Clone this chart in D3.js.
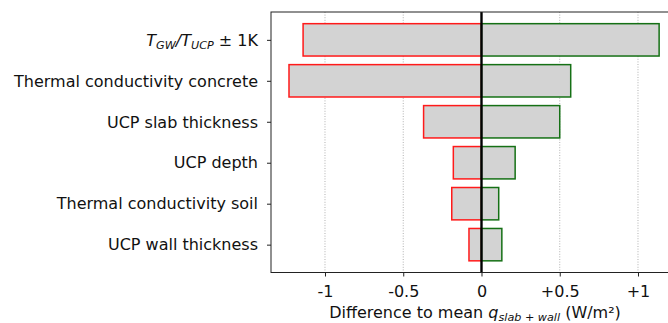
<!DOCTYPE html>
<html>
<head>
<meta charset="utf-8">
<script src="https://cdn.jsdelivr.net/npm/d3@7"></script>
<style>
  html, body { margin: 0; padding: 0; background: #fff; }
  svg { display: block; font-family: "DejaVu Sans", sans-serif; }
</style>
</head>
<body>
<svg id="chart" width="668" height="323"></svg>
<script>
// Sensitivity of q_slab+wall to each parameter (tornado chart)
const categories = [
  "T_GW/T_UCP ± 1K",
  "Thermal conductivity concrete",
  "UCP slab thickness",
  "UCP depth",
  "Thermal conductivity soil",
  "UCP wall thickness"
];
const lowValues  = [-1.14, -1.23, -0.37, -0.18, -0.19, -0.08];
const highValues = [1.135, 0.57, 0.50, 0.215, 0.11, 0.13];
const tickValues = [-1, -0.5, 0, 0.5, 1];
const tickLabels = ["-1", "-0.5", "0", "+0.5", "+1"];

const svg = d3.select("#chart");
const plot = { left: 271, right: 679, top: 12, bottom: 272.5 };
const fs = 16, subFs = 11.2;

const x = d3.scaleLinear().domain([-1.345, 1.262]).range([plot.left, plot.right]);
const y = d3.scaleLinear().domain([-0.68, categories.length - 1 + 0.68]).range([plot.top, plot.bottom]);
const barH = 0.79 * (y(1) - y(0));

// dotted vertical grid
svg.append("g").selectAll("line")
  .data(tickValues.filter(v => v !== 0))
  .join("line")
  .attr("x1", d => x(d)).attr("x2", d => x(d))
  .attr("y1", plot.top).attr("y2", plot.bottom)
  .attr("stroke", "#a8a8a8").attr("stroke-width", 0.9)
  .attr("stroke-dasharray", "1,1.6");

// bars
const rows = categories.map((c, i) => ({ c, i, lo: lowValues[i], hi: highValues[i] }));
const bars = svg.append("g");
bars.selectAll("rect.lo").data(rows).join("rect")
  .attr("class", "lo")
  .attr("x", d => x(d.lo)).attr("width", d => x(0) - x(d.lo))
  .attr("y", d => y(d.i) - barH / 2).attr("height", barH)
  .attr("fill", "#d3d3d3").attr("stroke", "#ff1a1a").attr("stroke-width", 1.5);
bars.selectAll("rect.hi").data(rows).join("rect")
  .attr("class", "hi")
  .attr("x", x(0)).attr("width", d => x(d.hi) - x(0))
  .attr("y", d => y(d.i) - barH / 2).attr("height", barH)
  .attr("fill", "#d3d3d3").attr("stroke", "#157015").attr("stroke-width", 1.5);

// zero line
svg.append("line")
  .attr("x1", x(0)).attr("x2", x(0))
  .attr("y1", plot.top).attr("y2", plot.bottom)
  .attr("stroke", "#000").attr("stroke-width", 2.4);

// frame
svg.append("rect")
  .attr("x", plot.left).attr("y", plot.top)
  .attr("width", plot.right - plot.left).attr("height", plot.bottom - plot.top)
  .attr("fill", "none").attr("stroke", "#222").attr("stroke-width", 1);

// x axis
const xAxis = d3.axisBottom(x).tickValues(tickValues)
  .tickFormat((d, i) => tickLabels[i]).tickSize(4);
const gx = svg.append("g").attr("transform", `translate(0,${plot.bottom})`).call(xAxis);
gx.select(".domain").remove();
gx.selectAll("line").attr("stroke", "#222");
gx.selectAll("text").attr("font-size", fs).attr("fill", "#111")
  .attr("font-family", "DejaVu Sans").attr("dy", null).attr("y", 24);

// y axis
const yAxis = d3.axisLeft(y).tickValues(d3.range(categories.length))
  .tickFormat(() => "").tickSize(4);
const gy = svg.append("g").attr("transform", `translate(${plot.left},0)`).call(yAxis);
gy.select(".domain").remove();
gy.selectAll("line").attr("stroke", "#222");

const labelX = plot.left - 13;
const labels = svg.append("g").attr("font-size", fs).attr("fill", "#111")
  .attr("text-anchor", "end");
rows.forEach(d => {
  const t = labels.append("text").attr("x", labelX).attr("y", y(d.i)).attr("dy", "0.36em");
  if (d.i === 0) {
    t.append("tspan").attr("font-style", "italic").text("T");
    t.append("tspan").attr("font-style", "italic").attr("font-size", subFs).attr("dy", 3).text("GW");
    t.append("tspan").attr("font-style", "italic").attr("dy", -3).text("/T");
    t.append("tspan").attr("font-style", "italic").attr("font-size", subFs).attr("dy", 3).text("UCP");
    t.append("tspan").attr("dy", -3).text(" ± 1K");
  } else {
    t.text(d.c);
  }
});

// x axis title
const title = svg.append("text")
  .attr("x", (plot.left + plot.right) / 2).attr("y", 318)
  .attr("text-anchor", "middle").attr("font-size", fs).attr("fill", "#111");
title.append("tspan").text("Difference to mean ");
title.append("tspan").attr("font-style", "italic").text("q");
title.append("tspan").attr("font-style", "italic").attr("font-size", subFs).attr("dy", 3).text("slab + wall");
title.append("tspan").attr("dy", -3).text(" (W/m²)");
</script>
</body>
</html>
